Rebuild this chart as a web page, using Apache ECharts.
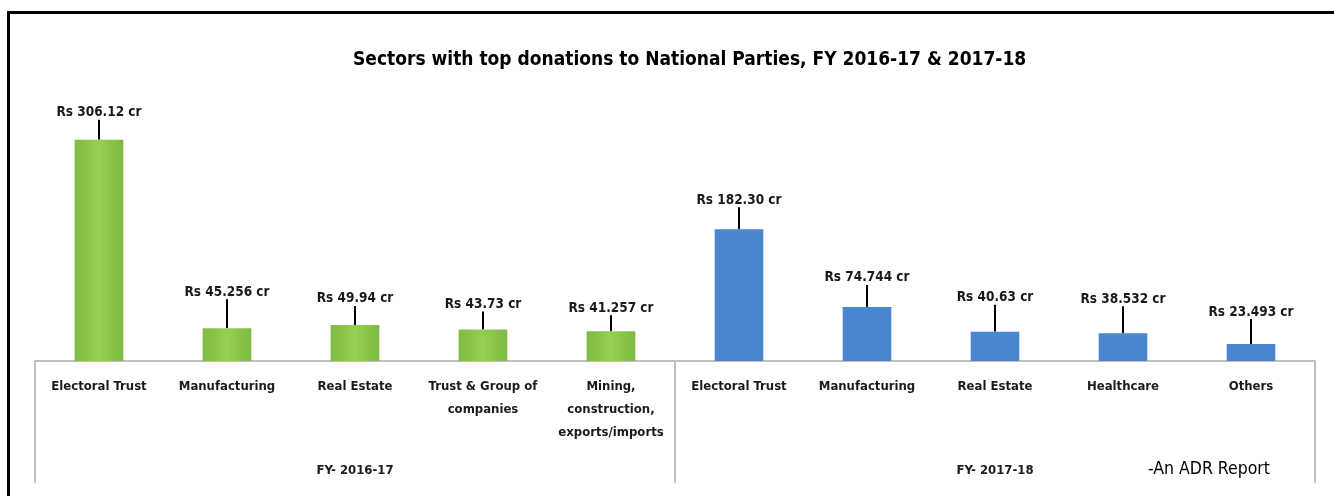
<!DOCTYPE html>
<html>
<head>
<meta charset="utf-8">
<title>Sectors with top donations to National Parties</title>
<script src="https://cdn.jsdelivr.net/npm/echarts@6/dist/echarts.min.js"></script>
<style>
	html, body { margin: 0; padding: 0; background: #fff; }
	#wrap { position: relative; width: 1334px; height: 496px; overflow: hidden; }
	#chart { position: absolute; left: 0; top: 0; width: 1334px; height: 496px; }
	/* outer frame of the pasted excel chart */
	#frame { position: absolute; left: 7px; top: 11px; width: 1340px; height: 500px;
		border-left: 3px solid #000; border-top: 3px solid #000; pointer-events: none; }
</style>
</head>
<body>
<div id="wrap">
	<div id="chart"></div>
	<div id="frame"></div>
</div>
<script>
// categories (bottom row of the axis)
var sectors = ['Electoral Trust', 'Manufacturing', 'Real Estate', 'Trust & Group of\ncompanies', 'Mining,\nconstruction,\nexports/imports',
	'Electoral Trust', 'Manufacturing', 'Real Estate', 'Healthcare', 'Others'];
// group labels (second row of the axis)
var years = ['FY- 2016-17', 'FY- 2017-18'];
// donations, Rs crore (kept as text so "182.30" keeps its zero)
var fy1617 = ['306.12', '45.256', '49.94', '43.73', '41.257', null, null, null, null, null];
var fy1718 = [null, null, null, null, null, '182.30', '74.744', '40.63', '38.532', '23.493'];

// distance between bar top and centre of its label, px
var labelGap = [28, 37, 27, 26, 24, 30, 30, 35, 35, 33];

var font = '"Liberation Sans Narrow", "DejaVu Sans Condensed", sans-serif';

var green = new echarts.graphic.LinearGradient(0, 0, 1, 0, [
	{ offset: 0, color: '#7fb843' },
	{ offset: 0.5, color: '#93d050' },
	{ offset: 1, color: '#7fb843' }
]);

function barLabel() {
	return {
		show: true,
		position: 'top',
		distance: 5,
		fontFamily: font,
		fontSize: 13.5,
		fontWeight: 'bold',
		color: '#1a1a1a',
		formatter: function (p) {
			return 'Rs ' + p.value + ' cr';
		}
	};
}

var chart = echarts.init(document.getElementById('chart'));
var option = {
	animation: false,
	title: [{
		text: 'Sectors with top donations to National Parties, FY 2016-17 & 2017-18',
		left: 348,
		top: 46,
		textStyle: { fontFamily: font, fontSize: 19, fontWeight: 'bold', color: '#000' }
	}, {
		text: '-An ADR Report',
		left: 1143,
		top: 455,
		textStyle: { fontFamily: font, fontSize: 17.5, fontWeight: 'normal', color: '#000' }
	}],
	grid: {
		left: 35,
		right: 19,
		top: 72,
		bottom: 135
	},
	xAxis: [{
		type: 'category',
		data: sectors,
		axisLine: { lineStyle: { color: '#bfbfbf', width: 2 } },
		axisTick: { show: false },
		axisLabel: {
			interval: 0,
			margin: 14,
			fontFamily: font,
			fontSize: 13,
			lineHeight: 23,
			fontWeight: 'bold',
			color: '#1a1a1a'
		}
	}, {
		type: 'category',
		data: years,
		position: 'bottom',
		axisLine: { show: false },
		axisTick: { show: true, length: 122, lineStyle: { color: '#bfbfbf', width: 2 } },
		axisLabel: {
			margin: 98,
			fontFamily: font,
			fontSize: 13,
			lineHeight: 23,
			fontWeight: 'bold',
			color: '#1a1a1a'
		}
	}],
	yAxis: {
		type: 'value',
		min: 0,
		max: 400,
		show: false,
		splitLine: { show: false }
	},
	series: [{
		name: 'FY 2016-17',
		type: 'bar',
		stack: 'all',
		barWidth: '38%',
		data: fy1617,
		itemStyle: { color: green },
		label: barLabel(),
		labelLine: { show: true, lineStyle: { color: '#000', width: 2 } },
		labelLayout: function (p) {
			return { dy: -(labelGap[p.dataIndex] - 13) };
		}
	}, {
		name: 'FY 2017-18',
		type: 'bar',
		stack: 'all',
		barWidth: '38%',
		data: fy1718,
		itemStyle: { color: '#4a85cf' },
		label: barLabel(),
		labelLine: { show: true, lineStyle: { color: '#000', width: 2 } },
		labelLayout: function (p) {
			return { dy: -(labelGap[p.dataIndex] - 13) };
		}
	}]
};
chart.setOption(option);

window.addEventListener('resize', function () {
	chart.resize();
});
</script>
</body>
</html>
